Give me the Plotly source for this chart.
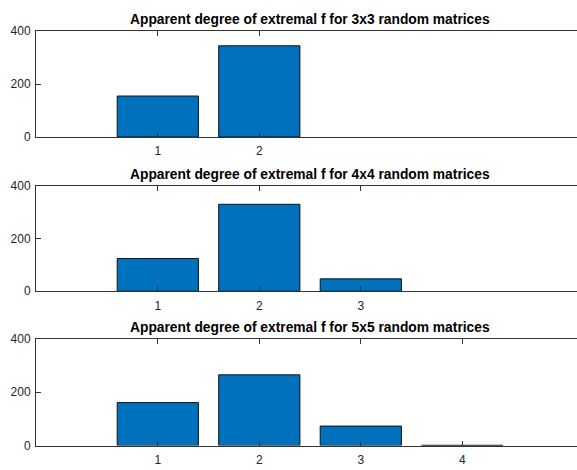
import plotly.graph_objects as go

# Data
degrees_3x3 = [1, 2]
counts_3x3 = [155, 345]
degrees_4x4 = [1, 2, 3]
counts_4x4 = [124, 329, 47]
degrees_5x5 = [1, 2, 3, 4]
counts_5x5 = [161, 265, 73, 1]
titles = [
    "Apparent degree of extremal f for 3x3 random matrices",
    "Apparent degree of extremal f for 4x4 random matrices",
    "Apparent degree of extremal f for 5x5 random matrices",
]
xtick_vals = [1, 2, 3, 4, 5]
ytick_vals = [0, 200, 400]

W, H = 577, 470
left_px = 36
panels_px = [(25, 134), (184, 293), (342, 452)]

AX = "#262626"
LINE = "#333333"
fig = go.Figure()
layout = dict(
    width=W, height=H,
    margin=dict(l=0, r=0, t=0, b=0),
    paper_bgcolor="white", plot_bgcolor="white",
    showlegend=False, hovermode=False,
    font=dict(family="Liberation Sans, Arial, Helvetica, sans-serif", size=12, color=AX),
    annotations=[],
)

series = [(degrees_3x3, counts_3x3), (degrees_4x4, counts_4x4), (degrees_5x5, counts_5x5)]
for i, ((xs, ys), (top, bot)) in enumerate(zip(series, panels_px)):
    n = "" if i == 0 else str(i + 1)
    fig.add_trace(go.Bar(
        x=xs, y=ys, width=0.8,
        marker=dict(color="#0072BD", line=dict(color="#111111", width=1)),
        xaxis="x" + n, yaxis="y" + n,
    ))
    dom = [1 - bot / H, 1 - top / H]
    layout["xaxis" + n] = dict(
        domain=[left_px / W, 1], range=[-0.2, 5.13], anchor="y" + n,
        tickvals=[v for v in xtick_vals if v <= len(xs)],
        ticks="inside", ticklen=5, tickcolor=LINE, tickwidth=1,
        showline=True, linecolor=LINE, linewidth=1, mirror="ticks",
        showgrid=False, zeroline=False, tickfont=dict(size=12, color=AX),
        ticklabelstandoff=3,
    )
    layout["yaxis" + n] = dict(
        domain=dom, range=[0, 400], anchor="x" + n,
        tickvals=ytick_vals, ticks="inside", ticklen=5, tickcolor=LINE, tickwidth=1,
        showline=True, linecolor=LINE, linewidth=1, mirror=False,
        showgrid=False, zeroline=False, tickfont=dict(size=12, color=AX),
        ticklabelstandoff=2,
    )
    layout["annotations"].append(dict(
        text="<b>" + titles[i] + "</b>", xref="x" + n, yref="paper",
        x=2.5, y=1 - top / H, xanchor="center", yanchor="bottom", yshift=2,
        showarrow=False, font=dict(size=13.8, color="#000000"),
    ))

fig.update_layout(**layout)
fig.write_html(
    "out.html",
    config={"displayModeBar": False, "staticPlot": True},
    post_script="document.body.style.margin='0';document.body.style.overflow='hidden';",
)
